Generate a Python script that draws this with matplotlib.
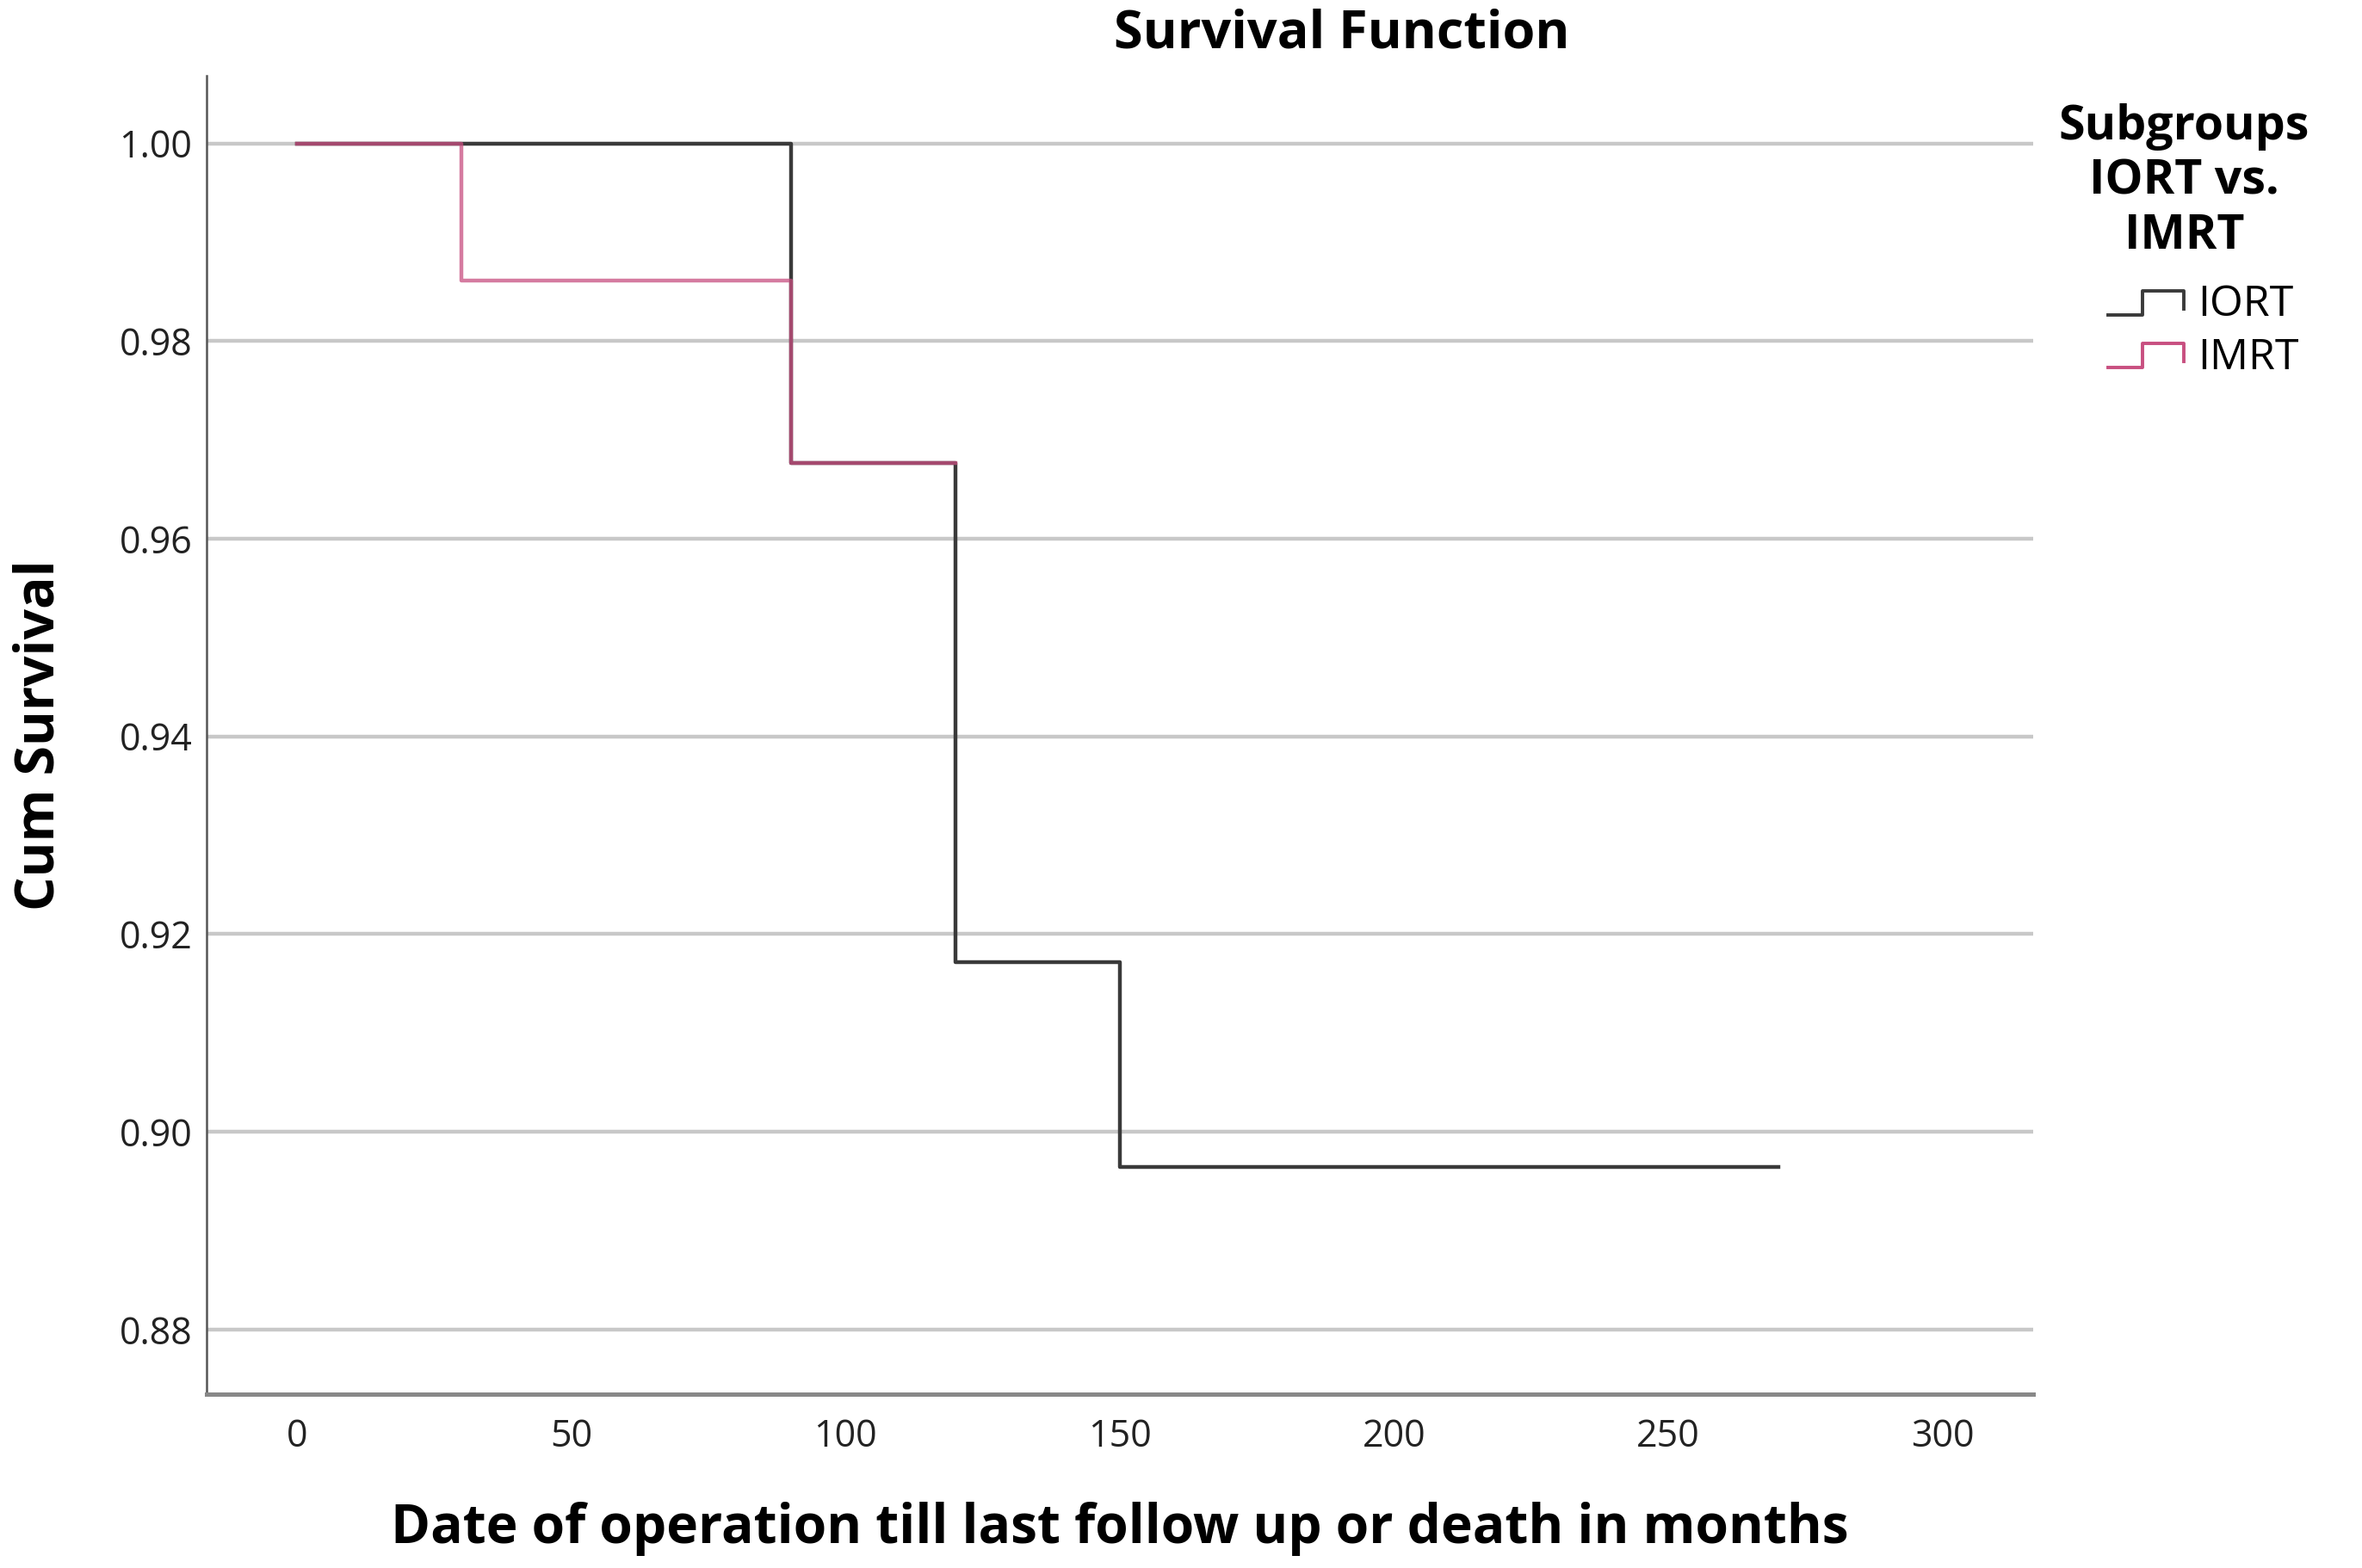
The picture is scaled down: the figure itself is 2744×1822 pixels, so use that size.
import matplotlib
matplotlib.use("Agg")
import matplotlib.pyplot as plt
from matplotlib.lines import Line2D
from matplotlib.legend_handler import HandlerBase

plt.rcParams['font.family'] = ['Open Sans', 'DejaVu Sans']

# ==========================================
# DATA (Kaplan-Meier steps)
# ==========================================
groups = ["IORT", "IMRT"]
iort_time = [0, 90, 120, 150, 270]
iort_surv = [1.0, 0.9677, 0.9172, 0.8964, 0.8964]
imrt_time = [0, 30, 90, 120]
imrt_surv = [1.0, 0.9861, 0.9677, 0.9677]
x_ticks = [0, 50, 100, 150, 200, 250, 300]
y_ticks = [0.88, 0.90, 0.92, 0.94, 0.96, 0.98, 1.00]

colors = {"IORT": "#3a3a3a", "IMRT": "#c84f80"}


class StepHandler(HandlerBase):
    """Draws the little step glyph that SPSS uses in its legend,
    in the right part of the handle box."""
    def create_artists(self, legend, orig_handle, xdescent, ydescent,
                       width, height, fontsize, trans):
        x0 = -xdescent + width * 0.34
        w = width * 0.66
        y_lo = -ydescent + height * 0.05
        y_hi = -ydescent + height * 0.85
        xs = [x0, x0 + w * 0.45, x0 + w * 0.45, x0 + w, x0 + w]
        ys = [y_lo, y_lo, y_hi, y_hi, y_lo + height * 0.2]
        ln = Line2D(xs, ys, color=orig_handle.get_color(),
                    lw=orig_handle.get_linewidth(), transform=trans)
        return [ln]


fig = plt.figure(figsize=(13.72, 9.11), dpi=200)
ax = fig.add_axes([240 / 2744, 1 - 1620 / 1822, (2362 - 240) / 2744, (1620 - 88) / 1822])

ax.step(iort_time, iort_surv, where="post", color=colors["IORT"], lw=1.6, zorder=3)
ax.step(imrt_time, imrt_surv, where="post", color=colors["IMRT"], lw=1.6, alpha=0.75, zorder=4)

ax.set_xlim(-16.5, 316.5)
ax.set_ylim(0.87345, 1.00685)
ax.set_xticks(x_ticks)
ax.set_yticks(y_ticks)
ax.set_yticklabels([f"{v:.2f}" for v in y_ticks])
ax.tick_params(axis="both", length=0, labelsize=15.5, colors="#222222")
ax.tick_params(axis="x", pad=10)
ax.tick_params(axis="y", pad=6)

ax.yaxis.grid(True, color="#c8c8c8", lw=1.6)
ax.set_axisbelow(True)
for side in ["top", "right"]:
    ax.spines[side].set_visible(False)
ax.spines["left"].set_color("#555555")
ax.spines["left"].set_linewidth(0.9)
ax.spines["bottom"].set_color("#888888")
ax.spines["bottom"].set_linewidth(1.8)

ax.set_xlabel("Date of operation till last follow up or death in months",
              fontsize=22.4, fontweight="bold", labelpad=19)
ax.set_ylabel("Cum Survival", fontsize=22.4, fontweight="bold", labelpad=22)

fig.text(891 / 1568, 1 - 23 / 1040, "Survival Function", ha="center", va="center",
         fontsize=22, fontweight="bold")

handles = [Line2D([], [], color=colors[g], lw=1.4) for g in groups]
leg = fig.legend(handles, groups, loc="upper center",
                 bbox_to_anchor=(1450 / 1568, 1 - 43 / 1040),
                 title="Subgroups\nIORT vs.\nIMRT", frameon=False,
                 fontsize=18, title_fontproperties={"size": 20, "weight": "bold"},
                 handler_map={Line2D: StepHandler()}, handlelength=2.66,
                 handletextpad=0.32, labelspacing=0.24)
leg.get_title().set_multialignment("center")
leg._legend_box.sep = 10

fig.savefig("out.png", dpi=200)
